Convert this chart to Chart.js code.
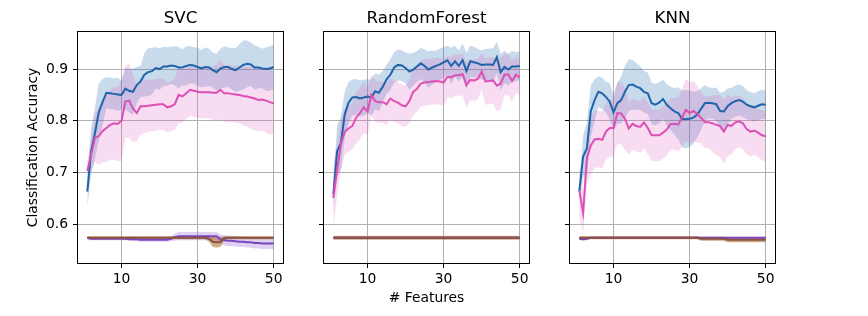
<!DOCTYPE html>
<html><head><meta charset="utf-8">
<script src="https://cdn.jsdelivr.net/npm/chart.js@4.4.0/dist/chart.umd.min.js"></script>
<style>
html,body{margin:0;padding:0;background:#fff;}
#wrap{position:relative;width:868px;height:316px;overflow:hidden;background:#fff;}
canvas{position:absolute;top:0;}
</style></head><body>
<div id="wrap">
<canvas id="c0" width="290" height="316" style="left:0px"></canvas>
<canvas id="c1" width="290" height="316" style="left:246px"></canvas>
<canvas id="c2" width="290" height="316" style="left:492px"></canvas>
</div>
<script>
// ---------------- data ----------------
const features = [1,2,3,4,5,6,7,8,9,10,11,12,13,14,15,16,17,18,19,20,21,22,23,24,25,26,27,28,29,30,31,32,33,34,35,36,37,38,39,40,41,42,43,44,45,46,47,48,49,50];
const panelTitles = ['SVC', 'RandomForest', 'KNN'];
const xTicks = [10, 30, 50];
const yTicks = [0.6, 0.7, 0.8, 0.9];
const yLabel = 'Classification Accuracy';
const xLabel = '# Features';

// SVC
const svcBlueMean = [0.663,0.741,0.776,0.816,0.836,0.854,0.853,0.852,0.851,0.850,0.862,0.858,0.856,0.869,0.876,0.889,0.894,0.896,0.902,0.900,0.905,0.905,0.907,0.906,0.903,0.903,0.906,0.908,0.907,0.904,0.901,0.904,0.903,0.898,0.894,0.901,0.904,0.904,0.900,0.898,0.903,0.908,0.910,0.909,0.903,0.903,0.901,0.900,0.901,0.904];
const svcBlueStd  = [0.030,0.045,0.050,0.055,0.045,0.030,0.030,0.030,0.032,0.028,0.040,0.042,0.045,0.035,0.030,0.042,0.046,0.045,0.040,0.040,0.038,0.037,0.036,0.038,0.040,0.035,0.038,0.036,0.035,0.037,0.036,0.038,0.036,0.034,0.036,0.038,0.040,0.038,0.040,0.042,0.045,0.047,0.045,0.042,0.043,0.040,0.038,0.042,0.043,0.043];
const svcPinkMean = [0.703,0.735,0.767,0.770,0.780,0.786,0.792,0.795,0.794,0.800,0.837,0.839,0.824,0.815,0.828,0.828,0.829,0.830,0.831,0.832,0.832,0.826,0.828,0.832,0.850,0.847,0.853,0.860,0.858,0.856,0.855,0.855,0.855,0.854,0.854,0.860,0.853,0.853,0.852,0.851,0.850,0.848,0.847,0.845,0.843,0.840,0.841,0.839,0.836,0.834];
const svcPinkStd  = [0.015,0.030,0.045,0.055,0.060,0.065,0.068,0.070,0.072,0.078,0.070,0.072,0.065,0.055,0.055,0.052,0.050,0.050,0.050,0.050,0.050,0.048,0.048,0.050,0.055,0.050,0.050,0.050,0.050,0.050,0.050,0.050,0.050,0.052,0.055,0.058,0.055,0.055,0.055,0.055,0.055,0.057,0.058,0.060,0.062,0.060,0.060,0.062,0.063,0.060];
const svcPurpleMean = [0.574,0.572,0.572,0.572,0.572,0.572,0.572,0.572,0.572,0.572,0.572,0.571,0.571,0.571,0.570,0.570,0.570,0.570,0.570,0.570,0.570,0.570,0.572,0.575,0.577,0.577,0.577,0.577,0.577,0.577,0.577,0.577,0.577,0.577,0.577,0.571,0.569,0.568,0.568,0.567,0.566,0.566,0.565,0.565,0.564,0.564,0.563,0.563,0.563,0.563];
const svcPurpleStd  = [0.003,0.003,0.003,0.003,0.003,0.003,0.003,0.003,0.003,0.003,0.003,0.003,0.004,0.004,0.004,0.004,0.004,0.004,0.004,0.004,0.004,0.004,0.005,0.007,0.008,0.008,0.008,0.008,0.008,0.008,0.008,0.008,0.008,0.008,0.008,0.009,0.010,0.010,0.010,0.010,0.010,0.010,0.010,0.010,0.011,0.011,0.011,0.011,0.011,0.011];
const svcBrownMean = [0.574,0.574,0.574,0.574,0.574,0.574,0.574,0.574,0.574,0.574,0.574,0.574,0.574,0.574,0.574,0.574,0.574,0.574,0.574,0.574,0.574,0.574,0.574,0.574,0.574,0.574,0.574,0.574,0.574,0.574,0.574,0.574,0.572,0.566,0.565,0.566,0.573,0.574,0.574,0.574,0.574,0.574,0.574,0.574,0.574,0.574,0.574,0.574,0.574,0.574];
const svcBrownStd  = [0.003,0.003,0.003,0.003,0.003,0.003,0.003,0.003,0.003,0.003,0.003,0.003,0.003,0.003,0.003,0.003,0.003,0.003,0.003,0.003,0.003,0.003,0.003,0.003,0.003,0.003,0.003,0.003,0.003,0.003,0.003,0.003,0.006,0.010,0.010,0.010,0.004,0.003,0.003,0.003,0.003,0.003,0.003,0.003,0.003,0.003,0.003,0.003,0.003,0.003];

// RandomForest
const rfBlueMean = [0.658,0.741,0.757,0.812,0.835,0.845,0.846,0.843,0.845,0.847,0.845,0.857,0.854,0.866,0.880,0.889,0.903,0.908,0.907,0.902,0.895,0.899,0.905,0.911,0.906,0.899,0.903,0.906,0.909,0.913,0.917,0.906,0.915,0.906,0.917,0.896,0.915,0.913,0.911,0.908,0.909,0.909,0.908,0.923,0.894,0.904,0.899,0.905,0.905,0.906];
const rfBlueStd  = [0.030,0.050,0.050,0.045,0.040,0.035,0.035,0.035,0.035,0.033,0.035,0.035,0.035,0.030,0.028,0.030,0.030,0.030,0.030,0.030,0.035,0.032,0.030,0.030,0.032,0.035,0.033,0.030,0.030,0.030,0.028,0.035,0.030,0.030,0.032,0.035,0.030,0.030,0.028,0.028,0.030,0.030,0.032,0.030,0.035,0.032,0.030,0.030,0.028,0.028];
const rfPinkMean = [0.651,0.705,0.755,0.779,0.785,0.790,0.806,0.815,0.826,0.818,0.850,0.838,0.836,0.836,0.832,0.843,0.838,0.835,0.830,0.828,0.838,0.856,0.862,0.872,0.874,0.875,0.876,0.877,0.876,0.874,0.885,0.884,0.888,0.888,0.890,0.869,0.879,0.878,0.881,0.895,0.876,0.877,0.878,0.868,0.872,0.889,0.890,0.877,0.889,0.884];
const rfPinkStd  = [0.060,0.050,0.050,0.045,0.045,0.045,0.050,0.050,0.050,0.045,0.040,0.040,0.040,0.040,0.040,0.040,0.040,0.040,0.040,0.040,0.042,0.045,0.045,0.045,0.045,0.045,0.045,0.045,0.045,0.045,0.040,0.040,0.040,0.040,0.040,0.045,0.040,0.040,0.040,0.035,0.045,0.045,0.045,0.050,0.050,0.040,0.040,0.040,0.035,0.035];
const rfPurpleMean = [0.574,0.574,0.574,0.574,0.574,0.574,0.574,0.574,0.574,0.574,0.574,0.574,0.574,0.574,0.574,0.574,0.574,0.574,0.574,0.574,0.574,0.574,0.574,0.574,0.574,0.574,0.574,0.574,0.574,0.574,0.574,0.574,0.574,0.574,0.574,0.574,0.574,0.574,0.574,0.574,0.574,0.574,0.574,0.574,0.574,0.574,0.574,0.574,0.574,0.574];
const rfPurpleStd  = [0.002,0.002,0.002,0.002,0.002,0.002,0.002,0.002,0.002,0.002,0.002,0.002,0.002,0.002,0.002,0.002,0.002,0.002,0.002,0.002,0.002,0.002,0.002,0.002,0.002,0.002,0.002,0.002,0.002,0.002,0.002,0.002,0.002,0.002,0.002,0.002,0.002,0.002,0.002,0.002,0.002,0.002,0.002,0.002,0.002,0.002,0.002,0.002,0.002,0.002];
const rfBrownMean = [0.574,0.574,0.574,0.574,0.574,0.574,0.574,0.574,0.574,0.574,0.574,0.574,0.574,0.574,0.574,0.574,0.574,0.574,0.574,0.574,0.574,0.574,0.574,0.574,0.574,0.574,0.574,0.574,0.574,0.574,0.574,0.574,0.574,0.574,0.574,0.574,0.574,0.574,0.574,0.574,0.574,0.574,0.574,0.574,0.574,0.574,0.574,0.574,0.574,0.574];
const rfBrownStd  = [0.004,0.004,0.004,0.004,0.004,0.004,0.004,0.004,0.004,0.004,0.004,0.004,0.004,0.004,0.004,0.004,0.004,0.004,0.004,0.004,0.004,0.004,0.004,0.004,0.004,0.004,0.004,0.004,0.004,0.004,0.004,0.004,0.004,0.004,0.004,0.004,0.004,0.004,0.004,0.004,0.004,0.004,0.004,0.004,0.004,0.004,0.004,0.004,0.004,0.004];

// KNN
const knnBlueMean = [0.664,0.731,0.747,0.818,0.840,0.856,0.853,0.846,0.837,0.816,0.834,0.840,0.856,0.869,0.870,0.866,0.863,0.856,0.853,0.834,0.831,0.835,0.842,0.831,0.824,0.818,0.815,0.804,0.803,0.804,0.806,0.812,0.823,0.834,0.835,0.834,0.832,0.819,0.818,0.828,0.834,0.838,0.840,0.837,0.831,0.828,0.826,0.829,0.832,0.831];
const knnBlueStd  = [0.020,0.040,0.050,0.050,0.040,0.030,0.030,0.030,0.035,0.035,0.040,0.045,0.050,0.050,0.048,0.045,0.042,0.040,0.040,0.040,0.040,0.040,0.038,0.040,0.042,0.045,0.050,0.055,0.056,0.055,0.050,0.045,0.040,0.035,0.030,0.030,0.032,0.035,0.038,0.035,0.030,0.030,0.030,0.030,0.028,0.027,0.027,0.028,0.028,0.028];
const knnPinkMean = [0.665,0.622,0.728,0.752,0.764,0.765,0.763,0.779,0.786,0.786,0.815,0.814,0.804,0.785,0.794,0.790,0.788,0.797,0.786,0.772,0.772,0.772,0.777,0.783,0.794,0.794,0.793,0.806,0.821,0.815,0.819,0.813,0.806,0.797,0.797,0.795,0.792,0.790,0.779,0.792,0.790,0.797,0.799,0.795,0.784,0.779,0.781,0.777,0.772,0.770];
const knnPinkStd  = [0.050,0.040,0.050,0.055,0.055,0.055,0.055,0.055,0.055,0.055,0.060,0.060,0.060,0.050,0.050,0.050,0.050,0.050,0.050,0.050,0.050,0.050,0.050,0.050,0.050,0.050,0.052,0.055,0.060,0.060,0.058,0.055,0.050,0.050,0.050,0.055,0.058,0.060,0.062,0.060,0.055,0.052,0.050,0.050,0.048,0.048,0.047,0.047,0.048,0.050];
const knnPurpleMean = [0.572,0.571,0.572,0.574,0.574,0.574,0.574,0.574,0.574,0.574,0.574,0.574,0.574,0.574,0.574,0.574,0.574,0.574,0.574,0.574,0.574,0.574,0.574,0.574,0.574,0.574,0.574,0.574,0.574,0.574,0.574,0.574,0.574,0.574,0.574,0.574,0.574,0.574,0.574,0.574,0.574,0.574,0.574,0.574,0.574,0.574,0.574,0.574,0.574,0.574];
const knnPurpleStd  = [0.003,0.003,0.003,0.002,0.002,0.002,0.002,0.002,0.002,0.002,0.002,0.002,0.002,0.002,0.002,0.002,0.002,0.002,0.002,0.002,0.002,0.002,0.002,0.002,0.002,0.002,0.002,0.002,0.002,0.002,0.002,0.002,0.002,0.002,0.002,0.002,0.002,0.002,0.002,0.002,0.002,0.002,0.002,0.002,0.002,0.002,0.002,0.002,0.002,0.002];
const knnBrownMean = [0.574,0.574,0.574,0.574,0.574,0.574,0.574,0.574,0.574,0.574,0.574,0.574,0.574,0.574,0.574,0.574,0.574,0.574,0.574,0.574,0.574,0.574,0.574,0.574,0.574,0.574,0.574,0.574,0.574,0.574,0.574,0.574,0.572,0.572,0.572,0.572,0.572,0.572,0.572,0.570,0.570,0.570,0.570,0.570,0.570,0.570,0.570,0.570,0.570,0.570];
const knnBrownStd  = [0.003,0.003,0.003,0.003,0.003,0.003,0.003,0.003,0.003,0.003,0.003,0.003,0.003,0.003,0.003,0.003,0.003,0.003,0.003,0.003,0.003,0.003,0.003,0.003,0.003,0.003,0.003,0.003,0.003,0.003,0.003,0.003,0.004,0.004,0.004,0.004,0.004,0.004,0.004,0.005,0.005,0.005,0.005,0.005,0.005,0.005,0.005,0.005,0.005,0.005];

// ---------------- styles ----------------
const COLORS = {
  blue:   {line: '#1f64aa', band: 'rgba(33,110,180,0.25)'},
  pink:   {line: '#dd4fb4', band: 'rgba(225,95,190,0.22)'},
  purple: {line: '#7b44c0', band: 'rgba(140,90,200,0.28)'},
  brown:  {line: '#8b5244', band: 'rgba(165,105,35,0.55)'}
};
const FONT = "'DejaVu Sans', sans-serif";
const TICK_SIZE = 13.89, TITLE_SIZE = 16.67;

const panels = [
  {blue:[svcBlueMean,svcBlueStd], pink:[svcPinkMean,svcPinkStd], purple:[svcPurpleMean,svcPurpleStd], brown:[svcBrownMean,svcBrownStd]},
  {blue:[rfBlueMean,rfBlueStd], pink:[rfPinkMean,rfPinkStd], purple:[rfPurpleMean,rfPurpleStd], brown:[rfBrownMean,rfBrownStd]},
  {blue:[knnBlueMean,knnBlueStd], pink:[knnPinkMean,knnPinkStd], purple:[knnPurpleMean,knnPurpleStd], brown:[knnBrownMean,knnBrownStd]}
];

function seriesDatasets(mean, std, col, k) {
  const up = features.map((f, i) => ({x: f, y: mean[i] + std[i]}));
  const lo = features.map((f, i) => ({x: f, y: mean[i] - std[i]}));
  const md = features.map((f, i) => ({x: f, y: mean[i]}));
  return [
    {data: up, borderColor: 'rgba(0,0,0,0)', borderWidth: 0, pointRadius: 0, fill: '+1', backgroundColor: col.band, order: 20 + k, tension: 0},
    {data: lo, borderColor: 'rgba(0,0,0,0)', borderWidth: 0, pointRadius: 0, fill: false, order: 20 + k, tension: 0},
    {data: md, borderColor: col.line, borderWidth: 2, pointRadius: 0, fill: false, order: k, tension: 0}
  ];
}

const framePlugin = {
  id: 'frame',
  afterDraw(chart) {
    const {ctx, chartArea: a} = chart;
    ctx.save();
    ctx.strokeStyle = '#000';
    ctx.lineWidth = 1;
    const l = Math.round(a.left) - 0.5, t = Math.round(a.top) - 0.5;
    const r = Math.round(a.right) + 0.5, b = Math.round(a.bottom) + 0.5;
    ctx.strokeRect(l, t, r - l, b - t);
    ctx.restore();
  }
};

panels.forEach((p, idx) => {
  const datasets = [
    ...seriesDatasets(p.brown[0], p.brown[1], COLORS.brown, 0),
    ...seriesDatasets(p.purple[0], p.purple[1], COLORS.purple, 1),
    ...seriesDatasets(p.pink[0], p.pink[1], COLORS.pink, 2),
    ...seriesDatasets(p.blue[0], p.blue[1], COLORS.blue, 3)
  ];
  new Chart(document.getElementById('c' + idx), {
    type: 'line',
    data: {datasets},
    plugins: [framePlugin],
    options: {
      responsive: false,
      animation: false,
      devicePixelRatio: 1,
      layout: {padding: {left: 0, right: 7, top: 0, bottom: 0}},
      plugins: {
        legend: {display: false},
        tooltip: {enabled: false},
        title: {
          display: true, text: panelTitles[idx], color: '#000', fullSize: false,
          font: {family: FONT, size: TITLE_SIZE, weight: 'normal'},
          padding: {top: 9, bottom: 3}
        }
      },
      scales: {
        x: {
          type: 'linear', min: -1.45, max: 52.45,
          afterBuildTicks: s => { s.ticks = xTicks.map(v => ({value: v})); },
          afterFit: s => { s.height = 53; },
          ticks: {color: '#000', font: {family: FONT, size: TICK_SIZE}, padding: 3, maxRotation: 0, autoSkip: false},
          grid: {color: '#b0b0b0', lineWidth: 1, tickColor: '#000', tickLength: 5, tickWidth: 1},
          border: {display: false},
          title: {display: idx === 1, text: xLabel, color: '#000', font: {family: FONT, size: TICK_SIZE}, padding: {top: 0, bottom: 9}}
        },
        y: {
          type: 'linear', min: 0.5251, max: 0.9716,
          afterBuildTicks: s => { s.ticks = yTicks.map(v => ({value: v})); },
          afterFit: s => { s.width = 78; },
          ticks: {display: idx === 0, color: '#000', font: {family: FONT, size: TICK_SIZE}, padding: 5},
          grid: {color: '#b0b0b0', lineWidth: 1, tickColor: '#000', tickLength: 5, tickWidth: 1},
          border: {display: false},
          title: {display: idx === 0, text: yLabel, color: '#000', font: {family: FONT, size: TICK_SIZE}, padding: {top: 25, bottom: 0}}
        }
      }
    }
  });
});
</script>
</body></html>
